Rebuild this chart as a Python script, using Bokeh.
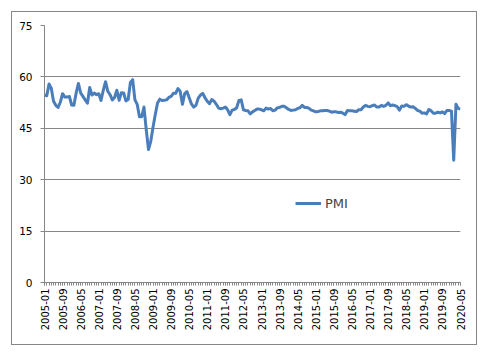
import math
from bokeh.plotting import figure
from bokeh.models import FixedTicker, Legend, LegendItem, Range1d
from bokeh.embed import file_html
from bokeh.resources import INLINE

# Monthly categories 2005-01 .. 2020-05
months = [f"{y}-{m:02d}" for y in range(2005, 2021) for m in range(1, 13)][:185]

pmi_2005 = [54.7, 54.5, 57.9, 56.7, 52.9, 51.7, 51.1, 52.6, 55.1, 54.1, 54.1, 54.3]
pmi_2006 = [51.8, 51.7, 55.3, 58.1, 55.3, 54.3, 53.3, 52.3, 56.9, 54.7, 55.3, 54.8]
pmi_2007 = [55.1, 53.1, 56.1, 58.6, 55.8, 54.8, 53.3, 54.0, 56.1, 53.2, 55.4, 55.3]
pmi_2008 = [53.0, 53.4, 58.4, 59.2, 53.3, 52.0, 48.4, 48.4, 51.2, 44.6, 38.8, 41.2]
pmi_2009 = [45.3, 49.0, 52.4, 53.5, 53.1, 53.2, 53.3, 54.0, 54.3, 55.2, 55.2, 56.6]
pmi_2010 = [55.8, 52.0, 55.1, 55.7, 53.9, 52.1, 51.2, 51.7, 53.8, 54.7, 55.2, 53.9]
pmi_2011 = [52.9, 52.2, 53.4, 52.9, 52.0, 50.9, 50.7, 50.9, 51.2, 50.4, 49.0, 50.3]
pmi_2012 = [50.5, 51.0, 53.1, 53.3, 50.4, 50.2, 50.1, 49.2, 49.8, 50.2, 50.6, 50.6]
pmi_2013 = [50.4, 50.1, 50.9, 50.6, 50.8, 50.1, 50.3, 51.0, 51.1, 51.4, 51.4, 51.0]
pmi_2014 = [50.5, 50.2, 50.3, 50.4, 50.8, 51.0, 51.7, 51.1, 51.1, 50.8, 50.3, 50.1]
pmi_2015 = [49.8, 49.9, 50.1, 50.1, 50.2, 50.2, 50.0, 49.7, 49.8, 49.8, 49.6, 49.7]
pmi_2016 = [49.4, 49.0, 50.2, 50.1, 50.1, 50.0, 49.9, 50.4, 50.4, 51.2, 51.7, 51.4]
pmi_2017 = [51.3, 51.6, 51.8, 51.2, 51.2, 51.7, 51.4, 51.7, 52.4, 51.6, 51.8, 51.6]
pmi_2018 = [51.3, 50.3, 51.5, 51.4, 51.9, 51.5, 51.2, 51.3, 50.8, 50.2, 50.0, 49.4]
pmi_2019 = [49.5, 49.2, 50.5, 50.1, 49.4, 49.4, 49.7, 49.5, 49.8, 49.3, 50.2, 50.2]
pmi_2020 = [50.0, 35.7, 52.0, 50.8, 50.6]

pmi = (pmi_2005 + pmi_2006 + pmi_2007 + pmi_2008 + pmi_2009 + pmi_2010 + pmi_2011 +
       pmi_2012 + pmi_2013 + pmi_2014 + pmi_2015 + pmi_2016 + pmi_2017 + pmi_2018 +
       pmi_2019 + pmi_2020)

y_ticks = [0, 15, 30, 45, 60, 75]
label_step = 8

x = list(range(len(months)))
major = list(range(0, len(months), label_step))

FONT = "DejaVu Sans"
GRID = "#868686"
BLUE = "#4A7EBB"

p = figure(output_backend="svg", toolbar_location=None,
           frame_width=416, frame_height=257,
           min_border_left=32, min_border_right=16,
           min_border_top=13, min_border_bottom=62,
           x_range=Range1d(0, len(months) - 1), y_range=Range1d(0, 75))
p.outline_line_color = None
p.background_fill_color = "white"
p.border_fill_color = "white"
p.styles = {"border": "1px solid #868686", "margin-left": "11px", "margin-top": "11px"}

r = p.line(x, pmi, line_color=BLUE, line_width=3, line_join="round")

# x axis
p.xaxis.ticker = FixedTicker(ticks=major, minor_ticks=x)
p.xaxis.major_label_overrides = {i: months[i] for i in major}
p.xaxis.major_label_orientation = math.pi / 2
p.xaxis.major_label_text_font = FONT
p.xaxis.major_label_text_font_size = "10px"
p.xaxis.major_label_text_color = "black"
p.xaxis.major_label_standoff = 3
p.xaxis.axis_line_color = GRID
p.xaxis.major_tick_line_color = GRID
p.xaxis.minor_tick_line_color = GRID
p.xaxis.major_tick_in = 0
p.xaxis.major_tick_out = 3
p.xaxis.minor_tick_in = 0
p.xaxis.minor_tick_out = 3

# y axis
p.yaxis.ticker = FixedTicker(ticks=y_ticks)
p.yaxis.major_label_text_font = FONT
p.yaxis.major_label_text_font_size = "10.5px"
p.yaxis.major_label_text_color = "black"
p.yaxis.major_label_standoff = 8
p.yaxis.axis_line_color = GRID
p.yaxis.major_tick_line_color = GRID
p.yaxis.major_tick_in = 0
p.yaxis.major_tick_out = 4
p.yaxis.minor_tick_line_color = None

p.xgrid.grid_line_color = None
p.ygrid.grid_line_color = GRID
p.ygrid.ticker = FixedTicker(ticks=y_ticks)

legend = Legend(items=[LegendItem(label="PMI", renderers=[r])],
                location=(251, 69), padding=0, margin=0, spacing=0,
                glyph_width=26, glyph_height=20, label_height=20,
                label_standoff=4,
                label_text_font=FONT, label_text_font_size="13px",
                border_line_color=None, background_fill_alpha=0)
p.add_layout(legend, "center")

open("out.html", "w").write(file_html(p, INLINE))
